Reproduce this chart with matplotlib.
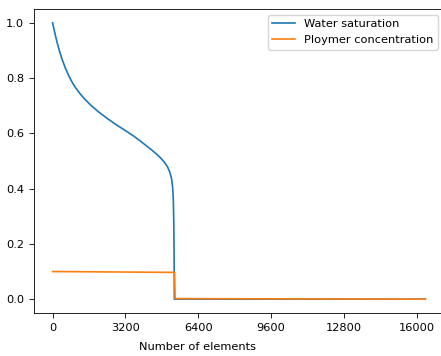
#!/usr/bin/env python3
"""Water saturation and polymer concentration along the element index."""

import matplotlib
matplotlib.use('Agg')
import matplotlib.pyplot as plt

# values
sw_x = [0, 100, 200, 300, 400, 550, 700, 850, 1000, 1200, 1400, 1700,
        2000, 2400, 2800, 3200, 3600, 4000, 4400, 4700, 4900, 5050, 5150,
        5230, 5275, 5305, 5325, 5340, 5350, 16384]
sw_y = [1.000, 0.962, 0.928, 0.898, 0.872, 0.838, 0.810, 0.786, 0.766,
        0.744, 0.725, 0.700, 0.679, 0.654, 0.631, 0.610, 0.588, 0.563,
        0.537, 0.515, 0.497, 0.479, 0.460, 0.435, 0.405, 0.360, 0.280,
        0.150, 0.0, 0.0]

cp_x = [0, 5360, 5385, 16384]
cp_y = [0.100, 0.097, 0.002, 0.0]

x_ticks = [0, 3200, 6400, 9600, 12800, 16000]

fs = 8.2
W, H = 441, 356
fig = plt.figure(figsize=(W / 100, H / 100), dpi=100)
ax = fig.add_axes([34 / W, 43 / H, 410 / W, 304 / H])

ax.plot(sw_x, sw_y, color='#1f77b4', linewidth=1.2, label='Water saturation')
ax.plot(cp_x, cp_y, color='#ff7f0e', linewidth=1.2, label='Ploymer concentration')

ax.set_xlim(-819, 17203)
ax.set_ylim(-0.05, 1.05)
ax.set_xticks(x_ticks)
ax.set_yticks([0.0, 0.2, 0.4, 0.6, 0.8, 1.0])
ax.tick_params(labelsize=fs, length=3.5, width=0.6)
for s in ax.spines.values():
    s.set_linewidth(0.6)

ax.set_xlabel('Number of elements', fontsize=fs)
ax.xaxis.set_label_coords(0.398, -0.097)

ax.legend(loc='upper right', fontsize=fs)

fig.savefig('out.png', dpi=100)
